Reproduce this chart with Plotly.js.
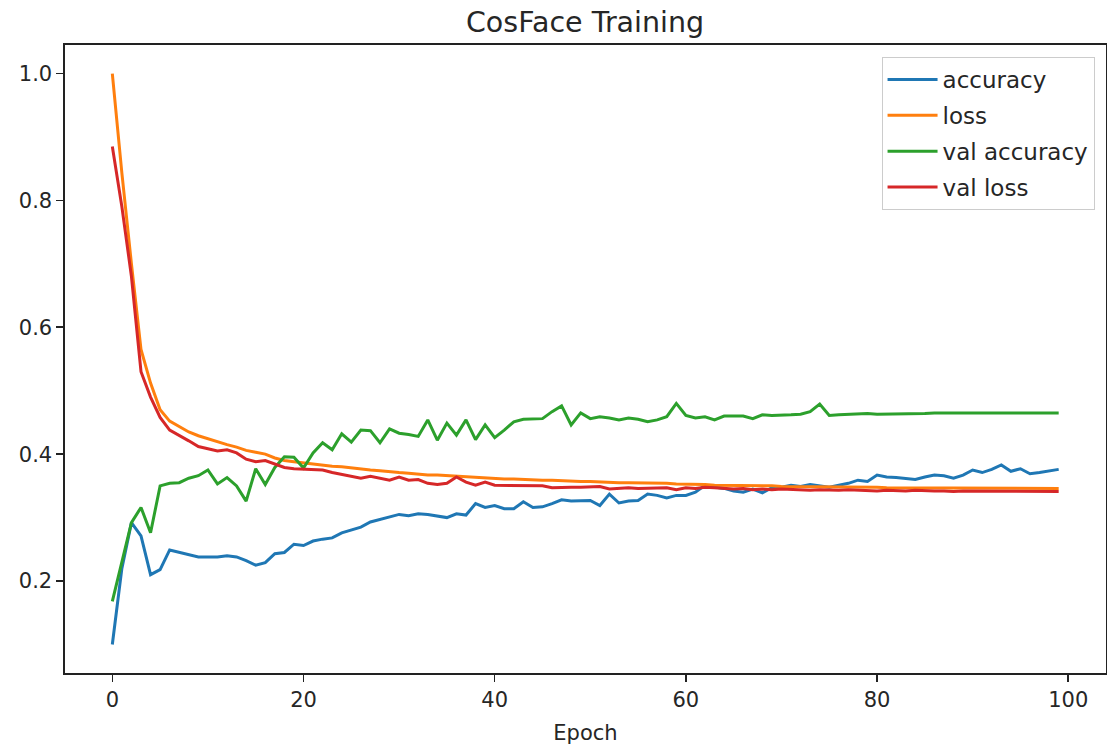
<!DOCTYPE html>
<html>
<head>
<meta charset="utf-8">
<script src="https://cdn.plot.ly/plotly-3.0.1.min.js"></script>
<style>html,body{margin:0;padding:0;background:#fff;}#chart{width:1107px;height:749px;}</style>
</head>
<body>
<div id="chart"></div>
<script>
const epochs = [0,1,2,3,4,5,6,7,8,9,10,11,12,13,14,15,16,17,18,19,20,21,22,23,24,25,26,27,28,29,30,31,32,33,34,35,36,37,38,39,40,41,42,43,44,45,46,47,48,49,50,51,52,53,54,55,56,57,58,59,60,61,62,63,64,65,66,67,68,69,70,71,72,73,74,75,76,77,78,79,80,81,82,83,84,85,86,87,88,89,90,91,92,93,94,95,96,97,98,99];

const accuracy = [
0.100,0.220,0.292,0.271,0.210,0.218,0.249,0.245,0.242,0.238,
0.238,0.238,0.240,0.238,0.232,0.225,0.229,0.243,0.245,0.258,
0.256,0.263,0.266,0.268,0.276,0.281,0.285,0.293,0.297,0.301,
0.305,0.303,0.306,0.305,0.302,0.300,0.306,0.304,0.322,0.316,
0.319,0.314,0.314,0.325,0.316,0.317,0.322,0.328,0.326,0.327,
0.327,0.319,0.337,0.323,0.326,0.327,0.337,0.335,0.331,0.335,
0.335,0.340,0.351,0.348,0.346,0.342,0.340,0.345,0.339,0.347,
0.348,0.351,0.349,0.352,0.350,0.348,0.351,0.354,0.359,0.357,
0.367,0.364,0.363,0.362,0.360,0.364,0.367,0.366,0.362,0.367,
0.375,0.371,0.376,0.383,0.373,0.377,0.369,0.371,0.374,0.376];

const loss = [
1.000,0.843,0.700,0.565,0.512,0.470,0.452,0.443,0.435,0.429,
0.424,0.419,0.415,0.411,0.406,0.403,0.400,0.394,0.390,0.388,
0.386,0.384,0.382,0.381,0.380,0.378,0.376,0.375,0.374,0.372,
0.371,0.370,0.368,0.367,0.367,0.366,0.365,0.365,0.363,0.362,
0.362,0.361,0.361,0.360,0.360,0.359,0.359,0.358,0.358,0.357,
0.357,0.356,0.356,0.355,0.355,0.355,0.354,0.354,0.354,0.353,
0.353,0.352,0.352,0.351,0.351,0.351,0.350,0.350,0.350,0.350,
0.349,0.349,0.349,0.349,0.349,0.348,0.348,0.348,0.348,0.348,
0.348,0.347,0.347,0.347,0.347,0.347,0.347,0.347,0.347,0.346,
0.346,0.346,0.346,0.346,0.346,0.346,0.346,0.346,0.346,0.346];

const valAccuracy = [
0.168,0.232,0.292,0.316,0.276,0.350,0.354,0.355,0.362,0.366,
0.375,0.353,0.363,0.350,0.326,0.377,0.352,0.379,0.396,0.395,
0.378,0.402,0.418,0.407,0.432,0.419,0.438,0.437,0.418,0.440,
0.433,0.431,0.428,0.454,0.422,0.449,0.430,0.454,0.423,0.446,
0.426,0.438,0.451,0.455,0.456,0.456,0.467,0.476,0.446,0.465,
0.456,0.459,0.457,0.454,0.457,0.455,0.451,0.454,0.459,0.480,
0.461,0.457,0.459,0.454,0.460,0.460,0.460,0.456,0.462,0.461,
0.461,0.462,0.463,0.467,0.479,0.461,0.462,0.463,0.464,0.464,
0.463,0.463,0.464,0.464,0.464,0.464,0.465,0.465,0.465,0.465,
0.465,0.465,0.465,0.465,0.466,0.465,0.466,0.466,0.465,0.465];

const valLoss = [
0.885,0.790,0.680,0.530,0.490,0.458,0.438,0.430,0.421,0.412,
0.408,0.405,0.407,0.402,0.392,0.388,0.390,0.384,0.379,0.377,
0.376,0.375,0.375,0.371,0.368,0.366,0.362,0.365,0.362,0.359,
0.364,0.359,0.360,0.354,0.352,0.354,0.364,0.356,0.351,0.356,
0.351,0.351,0.350,0.351,0.351,0.350,0.347,0.348,0.348,0.348,
0.349,0.349,0.345,0.346,0.347,0.346,0.346,0.346,0.347,0.344,
0.347,0.346,0.348,0.347,0.346,0.345,0.346,0.344,0.345,0.344,
0.345,0.344,0.344,0.343,0.344,0.343,0.343,0.344,0.343,0.343,
0.342,0.343,0.342,0.342,0.343,0.342,0.342,0.342,0.341,0.342,
0.342,0.341,0.342,0.341,0.341,0.342,0.341,0.341,0.341,0.341];

const seriesNames = ['accuracy','loss','val accuracy','val loss'];
const seriesColors = ['#1f77b4','#ff7f0e','#2ca02c','#d62728'];
const seriesData = [accuracy, loss, valAccuracy, valLoss];
const xTicks = [0,20,40,60,80,100];
const yTicks = [0.2,0.4,0.6,0.8,1.0];

const FONT = '"DejaVu Sans", "Liberation Sans", sans-serif';

const traces = seriesData.map((d, i) => ({
  x: epochs, y: d, type: 'scatter', mode: 'lines', name: seriesNames[i],
  legendgroup: 'g' + i,
  line: {color: seriesColors[i], width: 3}
}));

const axisCommon = {
  showgrid: false, zeroline: false, showline: true, mirror: true,
  linecolor: '#222', linewidth: 1.6, ticks: 'outside', ticklen: 7, tickwidth: 1.6,
  tickcolor: '#222', tickfont: {family: FONT, size: 21, color: '#262626'}
};

const layout = {
  width: 1107, height: 749,
  paper_bgcolor: '#fff', plot_bgcolor: '#fff',
  margin: {l: 65, r: 1, t: 45, b: 76},
  title: {text: 'CosFace Training', font: {family: FONT, size: 28.5, color: '#262626'},
          x: 0.5285, xanchor: 'center', y: 1 - 22/749, yanchor: 'middle', yref: 'container'},
  xaxis: Object.assign({}, axisCommon, {
    range: [-4.95, 103.95], tickvals: xTicks,
    title: {text: 'Epoch', font: {family: FONT, size: 21, color: '#262626'}, standoff: 14}
  }),
  yaxis: Object.assign({}, axisCommon, {
    range: [0.055, 1.045], tickvals: yTicks, tickformat: '.1f'
  }),
  showlegend: true,
  legend: {
    x: 0.989, xanchor: 'right', y: 0.981, yanchor: 'top',
    bgcolor: '#fff', bordercolor: '#ccc', borderwidth: 1,
    font: {family: FONT, size: 23, color: '#262626'},
    traceorder: 'grouped', tracegroupgap: 3, itemwidth: 50
  }
};

Plotly.newPlot('chart', traces, layout, {staticPlot: true, displayModeBar: false});
</script>
</body>
</html>
